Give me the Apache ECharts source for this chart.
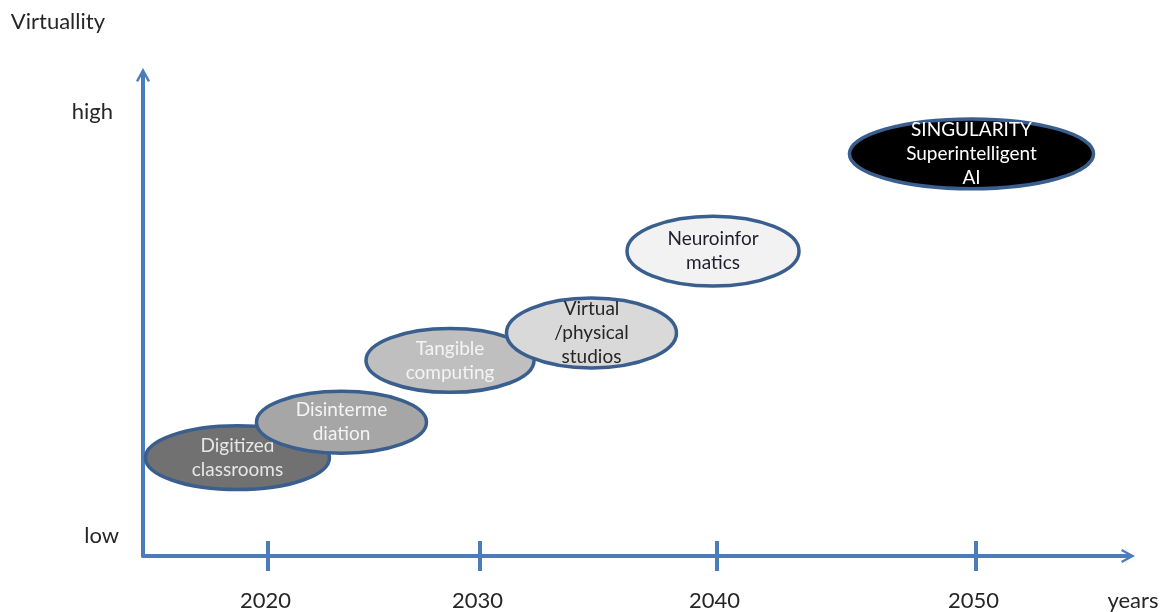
<!DOCTYPE html>
<html>
<head>
<meta charset="utf-8">
<script src="https://cdn.jsdelivr.net/npm/echarts@6/dist/echarts.min.js"></script>
<style>html,body{margin:0;padding:0;background:#fff}#c{width:1166px;height:612px}</style>
</head>
<body>
<div id="c"></div>
<script>
// ---- data (axis units: x 0..100 along timeline, y 0..100 virtuality) ----
const stageLabels = ['Digitized\nclassrooms', 'Disinterme\ndiation', 'Tangible\ncomputing', 'Virtual\n/physical\nstudios', 'Neuroinfor\nmatics', 'SINGULARITY\nSuperintelligent\nAI'];
const stageX  = [9.59, 20.15, 31.17, 45.53, 57.87, 84.11];
const stageY  = [20.44, 27.80, 40.66, 46.37, 63.38, 83.61];
const stageRx = [9.34, 8.63, 8.53, 8.63, 8.73, 12.39];
const stageRy = [6.64, 6.43, 6.64, 7.26, 7.26, 7.26];
const yearTickPos = [12.69, 34.21, 58.27, 84.57];
const yearTickLabels = ['2020', '2030', '2040', '2050'];
const levelPos = [4.15, 92.32];
const levelLabels = ['low', 'high'];

// ---- styles ----
const fills = ['#717171', '#a6a6a6', '#bfbfbf', '#d9d9d9', '#f2f2f2', '#000000'];
const textColors = ['#e6e6e6', '#f4f4f4', '#f4f4f4', '#262626', '#1e1e30', '#ffffff'];
const axisBlue = '#4a7dba';
const outline = '#3a5f8e';
const FONT = 'Lato, "Open Sans", sans-serif';
const chevron = 'path://M0,11 L6,0 L12,11 L10.2,12 L6,4.2 L1.8,12 Z';

const seriesData = stageLabels.map((n, i) => [stageX[i], stageY[i], stageRx[i], stageRy[i]]);

const chart = echarts.init(document.getElementById('c'));
chart.setOption({
  animation: false,
  grid: { left: 143, right: 38, top: 75, bottom: 55 },
  xAxis: [{
    type: 'value', min: 0, max: 100,
    name: 'years', nameLocation: 'end', nameGap: 0,
    nameTextStyle: { fontFamily: FONT, fontSize: 22, color: '#262626', align: 'center', verticalAlign: 'top', padding: [34, 0, 0, 10] },
    axisLine: { show: true, symbol: ['none', chevron], symbolSize: [18, 14], lineStyle: { color: axisBlue, width: 4 } },
    axisTick: { show: true, inside: false, length: 15, customValues: yearTickPos, lineStyle: { color: axisBlue, width: 4 } },
    axisLabel: { show: true, customValues: yearTickPos, margin: 34, fontFamily: FONT, fontSize: 22, color: '#262626',
      padding: [0, 5, 0, 0],
      formatter: v => { const k = yearTickPos.indexOf(v); return k >= 0 ? yearTickLabels[k] : ''; } },
    splitLine: { show: false }
  }, {
    type: 'value', min: 0, max: 100, position: 'bottom',
    axisLine: { show: false },
    axisTick: { show: true, inside: true, length: 15, customValues: yearTickPos, lineStyle: { color: axisBlue, width: 4 } },
    axisLabel: { show: false },
    splitLine: { show: false }
  }],
  yAxis: {
    type: 'value', min: 0, max: 100,
    name: 'Virtuallity', nameLocation: 'end', nameGap: 53,
    nameTextStyle: { fontFamily: FONT, fontSize: 22, color: '#262626', align: 'right', verticalAlign: 'middle', padding: [0, 38, 0, 0] },
    axisLine: { show: true, symbol: ['none', chevron], symbolSize: [18, 14], lineStyle: { color: axisBlue, width: 4 } },
    axisTick: { show: false },
    axisLabel: { show: true, customValues: levelPos, margin: 24, fontFamily: FONT, fontSize: 22, color: '#262626',
      formatter: v => { const k = levelPos.indexOf(v); return k < 0 ? '' : (k === 1 ? '{h|' + levelLabels[k] + '}' : levelLabels[k]); },
      rich: { h: { fontFamily: FONT, fontSize: 22, color: '#262626', padding: [0, 6, 0, 0] } } },
    splitLine: { show: false }
  },
  series: [{
    type: 'custom',
    clip: false,
    data: seriesData,
    renderItem: (params, api) => {
      const i = params.dataIndex;
      const c = api.coord([api.value(0), api.value(1)]);
      const s = api.size([api.value(2), api.value(3)]);
      return {
        type: 'group',
        children: [
          { type: 'ellipse', shape: { cx: c[0], cy: c[1], rx: s[0], ry: s[1] },
            style: { fill: fills[i], stroke: outline, lineWidth: 3.5 } },
          { type: 'text', x: c[0], y: c[1],
            style: { text: stageLabels[i], fill: textColors[i], fontFamily: FONT, fontSize: 19, lineHeight: 24, align: 'center', verticalAlign: 'middle' } }
        ]
      };
    }
  }]
});
</script>
</body>
</html>
